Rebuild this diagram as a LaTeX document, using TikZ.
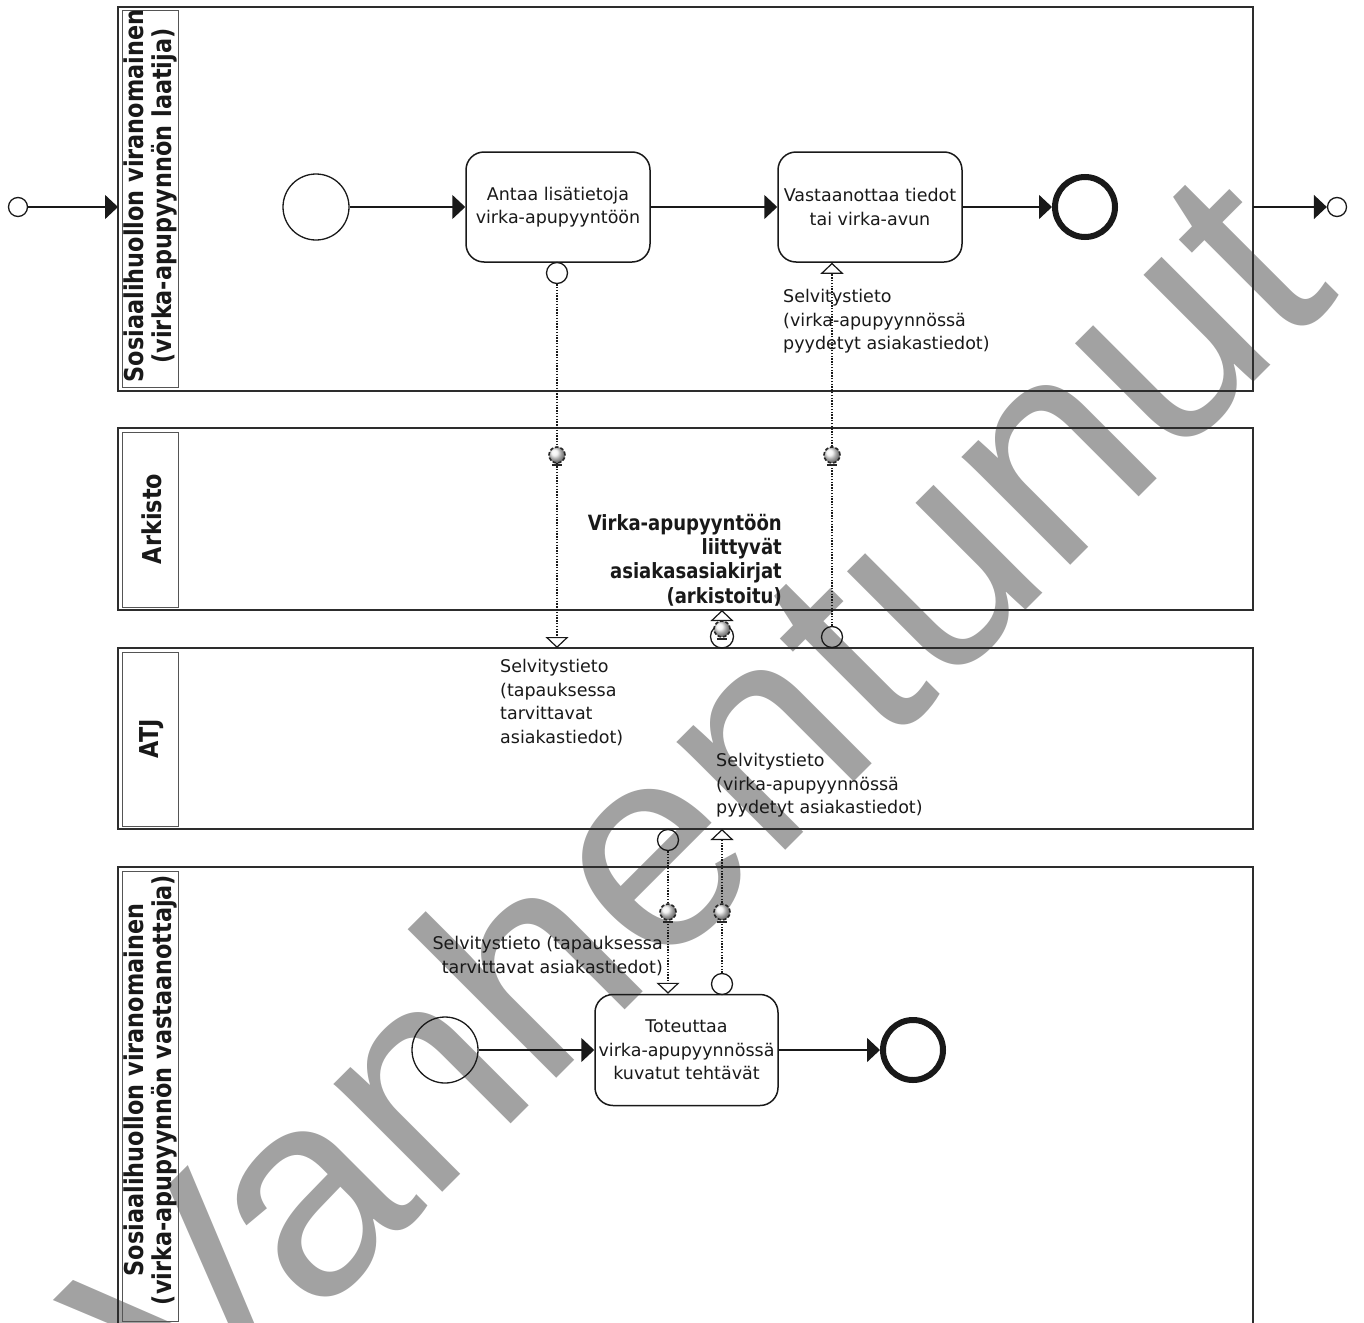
\documentclass[tikz,border=0pt]{standalone}
\usepackage{fontspec}
\setmainfont{DejaVu Sans}
\newfontfamily\narrowbold[FakeStretch=0.86]{DejaVu Sans}
\newfontfamily\wmfont{Liberation Sans}
\usetikzlibrary{arrows.meta}

\definecolor{wm}{RGB}{162,162,162}
\definecolor{laneline}{RGB}{45,45,45}
\definecolor{headline}{RGB}{85,85,85}
\definecolor{ink}{RGB}{25,25,25}

\tikzset{
  txt/.style={font=\fontsize{17.5}{23.5}\selectfont, inner sep=0pt, text=ink},
  boldtxt/.style={font=\narrowbold\bfseries\fontsize{21}{24.2}\selectfont, inner sep=0pt, text=ink},
  lanelabel/.style={font=\narrowbold\bfseries\fontsize{26}{28}\selectfont, rotate=90, align=center, inner sep=0pt, text=ink},
  lanebox/.style={draw=laneline, line width=2pt},
  headbox/.style={draw=headline, line width=1pt},
  task/.style={draw=ink, line width=1.5pt, rounded corners=18pt, minimum width=184pt, minimum height=110pt,
    align=center, inner sep=2pt, text=ink, font=\fontsize{17.5}{23.5}\selectfont},
  startev/.style={circle, draw=ink, line width=1.3pt, minimum size=66pt, inner sep=0pt},
  endev/.style={circle, draw=ink, line width=6pt, minimum size=60pt, inner sep=0pt},
  offpage/.style={circle, draw=ink, line width=1.3pt, minimum size=19pt, inner sep=0pt},
  msgsrc/.style={circle, draw=ink, line width=1.3pt, minimum size=21pt, inner sep=0pt},
  seqflow/.style={draw=ink, line width=1.5pt, -{Triangle[length=13pt,width=24pt]}},
  msgflow/.style={draw=ink, line width=1.4pt, dash pattern=on 1.4pt off 1.4pt,
    -{Triangle[open,length=11pt,width=23pt,line width=1.2pt]}},
  msgmark/.style={circle, minimum size=16pt, inner sep=0pt, ball color=gray!12,
    draw=black!85, line width=1.6pt, dash pattern=on 3.5pt off 2pt},
  markbar/.style={draw=black!85, line width=2.5pt},
}

\begin{document}
\begin{tikzpicture}[x=1pt, y=-1pt]
\useasboundingbox (0,0) rectangle (1364,1322);
\clip (0,0) rectangle (1364,1322);

% background stamp
\node[rotate=45, text=wm, font=\wmfont\fontsize{290}{290}\selectfont, inner sep=0pt] (stamp) at (694,795) {Vanhentunut};

% ---------- pools / lanes ----------
\draw[lanebox] (118,7) rectangle (1253,391);
\draw[headbox] (122,11) rectangle (178,387);
\node[lanelabel] (lab1) at (150,196) {Sosiaalihuollon viranomainen\\(virka-apupyynnön laatija)};

\draw[lanebox] (118,428) rectangle (1253,610);
\draw[headbox] (122,432) rectangle (178,607);
\node[lanelabel] (lab2) at (152,519) {Arkisto};

\draw[lanebox] (118,648) rectangle (1253,829);
\draw[headbox] (122,652) rectangle (178,826);
\node[lanelabel] (lab3) at (152,739) {ATJ};

\draw[lanebox] (118,867) rectangle (1253,1330);
\draw[headbox] (122,871) rectangle (178,1321);
\node[lanelabel] (lab4) at (150,1090) {Sosiaalihuollon viranomainen\\(virka-apupyynnön vastaanottaja)};

% lane edge points
\coordinate (l1left) at (118,207);
\coordinate (l1right) at (1253,207);
\coordinate (arkbot) at (0,610);
\coordinate (atjtop) at (0,648);
\coordinate (atjbot) at (0,829);

% ---------- upper pool ----------
\node[offpage] (offL) at (18,207) {};
\node[startev] (s1) at (316,207) {};
\node[task] (t1) at (558,207) {Antaa lisätietoja\\virka-apupyyntöön};
\node[task] (t2) at (870,207) {Vastaanottaa tiedot\\tai virka-avun};
\node[endev] (e1) at (1085,207) {};
\node[offpage] (offR) at (1337,207) {};

\draw[seqflow] (offL) -- (l1left);
\draw[seqflow] (s1) -- (t1);
\draw[seqflow] (t1) -- (t2);
\draw[seqflow] (t2) -- (e1);
\draw[seqflow] (l1right) -- (offR);

% ---------- lower pool ----------
\node[startev] (s4) at (445,1050) {};
\node[task, minimum width=183pt, minimum height=111pt] (t3) at (686.5,1050) {Toteuttaa\\virka-apupyynnössä\\kuvatut tehtävät};
\node[endev] (e4) at (913,1050) {};
\draw[seqflow] (s4) -- (t3);
\draw[seqflow] (t3) -- (e4);

% ---------- message flows ----------
\node[msgsrc] (src1) at (557,273) {};
\draw[msgflow] (src1.south) -- (src1.south |- atjtop);

\node[msgsrc] (src2) at (832,637) {};
\draw[msgflow] (src2.north) -- (src2.north |- t2.south);

\node[msgsrc, minimum size=23pt] (src3) at (722,636.5) {};
\draw[msgflow] (src3.north) -- (src3.north |- arkbot);

\node[msgsrc] (src4) at (668,840) {};
\draw[msgflow] (src4.south) -- (src4.south |- t3.north);

\node[msgsrc] (src5) at (722,984) {};
\draw[msgflow] (src5.north) -- (src5.north |- atjbot);

% message markers
\foreach \n/\x/\y in {m1/557/455, m2/832/455, m3/722/629, m4/668/912, m5/722/912}{
  \node[msgmark] (\n) at (\x,\y) {};
  \draw[markbar] ([xshift=-5pt,yshift=-1pt]\n.south) -- ([xshift=5pt,yshift=-1pt]\n.south);
}

% ---------- labels ----------
\node[txt, anchor=north west, align=left] (lbl1) at (783,289) {Selvitystieto\\(virka-apupyynnössä\\pyydetyt asiakastiedot)};
\node[txt, anchor=north west, align=left] (lbl2) at (500,659) {Selvitystieto\\(tapauksessa\\tarvittavat\\asiakastiedot)};
\node[txt, anchor=north west, align=left] (lbl3) at (716,753) {Selvitystieto\\(virka-apupyynnössä\\pyydetyt asiakastiedot)};
\node[txt, anchor=north east, align=right] (lbl4) at (663,936) {Selvitystieto (tapauksessa\\tarvittavat asiakastiedot)};
\node[boldtxt, anchor=north east, align=right] (lbl5) at (782,514) {Virka-apupyyntöön\\liittyvät\\asiakasasiakirjat\\(arkistoitu)};

\end{tikzpicture}
\end{document}
